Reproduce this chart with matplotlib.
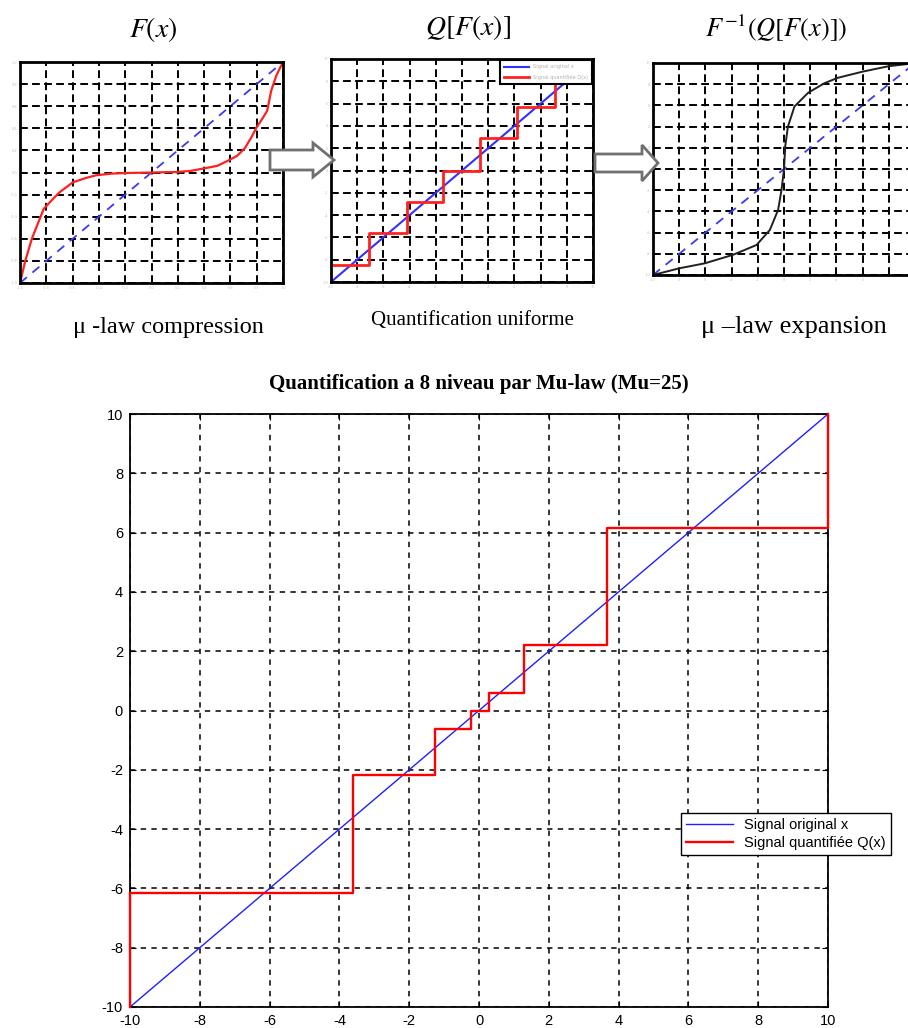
import numpy as np
import matplotlib
matplotlib.use('Agg')
import matplotlib.pyplot as plt
from matplotlib.patches import Polygon

plt.rcParams['axes.unicode_minus'] = False
plt.rcParams['mathtext.fontset'] = 'stix'

# ---- data ----
# panel 1 : compression curve F(x)
f_x = [-1, -0.96, -0.91, -0.86, -0.82, -0.75, -0.70, -0.60, -0.50, -0.42, -0.30, -0.20, 0,
       0.20, 0.30, 0.39, 0.50, 0.57, 0.65, 0.71, 0.76, 0.80, 0.85, 0.88, 0.91, 0.95, 1]
f_y = [-1, -0.80, -0.60, -0.45, -0.33, -0.24, -0.18, -0.09, -0.05, -0.025, -0.01, -0.005, 0,
       0.005, 0.015, 0.035, 0.06, 0.10, 0.15, 0.22, 0.32, 0.41, 0.50, 0.56, 0.74, 0.88, 1]

# panel 2 : uniform quantisation Q[F(x)]
q2_edges = [-10, -7.13, -4.21, -1.42, 1.37, 4.21, 7.08, 10]
q2_levels = [-8.5, -5.65, -2.8, 0.0, 2.9, 5.7, 8.5]

# panel 3 : expansion F^-1(Q[F(x)])
e_x = [-10, -8, -6.05, -3.9, -2.1, -1.08, -0.45, -0.19, 0, 0.1, 0.3, 0.8, 1.85, 3.1, 4.1, 6.05, 8.0, 9.4, 10]
e_y = [-10, -9.37, -8.9, -8.1, -7.17, -5.75, -3.86, -1.97, 0, 2.2, 4.0, 5.9, 7.2, 8.1, 8.6, 9.2, 9.7, 9.9, 10]

# main chart : 8 level mu-law quantisation (Mu=25)
sig_x = [-10, 10]
q_edges = [-10, -3.60, -1.25, -0.23, 0.30, 1.30, 3.66, 10]
q_levels = [-6.14, -2.17, -0.62, 0.0, 0.60, 2.22, 6.15]
q_start, q_end = -10, 10

ticks10 = list(range(-10, 11, 2))
ticks1 = [round(v, 1) for v in np.arange(-1, 1.01, 0.2)]

W, H = 908, 1028
fig = plt.figure(figsize=(W / 100, H / 100), dpi=100)


def box(l, t, r, b):
    return [l / W, 1 - b / H, (r - l) / W, (b - t) / H]


def small_panel(rect, lim, ticks):
    ax = fig.add_axes(box(*rect))
    ax.set_xlim(-lim, lim)
    ax.set_ylim(-lim, lim)
    ax.set_xticks(ticks)
    ax.set_yticks(ticks)
    ax.tick_params(labelsize=2.5, labelcolor='#c0c0c0', length=0, pad=2)
    ax.grid(True, color='k', linestyle=(0, (4, 2.2)), linewidth=1.4)
    for s in ax.spines.values():
        s.set_linewidth(2)
    return ax


# panel 1
ax1 = small_panel((20, 62, 283, 283), 1, ticks1)
ax1.plot([-1, 1], [-1, 1], color='#3a3af0', linestyle=(0, (5, 4)), linewidth=1.3)
ax1.plot(f_x, f_y, color='#ff2020', linewidth=1.6)

# panel 2
ax2 = small_panel((331, 59, 593, 282), 10, ticks10)
ax2.plot(sig_x, sig_x, color='#3030ff', linewidth=1.5, label='Signal original x')
ax2.step(q2_edges, q2_levels + [q2_levels[-1]], where='post', color='#ff2020',
         linewidth=2, label='Signal quantifiée Q(x)')
leg2 = ax2.legend(loc='upper right', fontsize=3.6, labelcolor='#b0b0b0', fancybox=False,
                  edgecolor='k', framealpha=1, borderaxespad=0.25, handlelength=5,
                  borderpad=0.8, labelspacing=1.0)
leg2.get_frame().set_linewidth(1.5)

# panel 3 (cut off on the right, like the reference)
ax3 = small_panel((653, 63, 915, 275), 10, ticks10)
ax3.set_xticklabels([str(t) if t < 8 else '' for t in ticks10])
ax3.plot(sig_x, sig_x, color='#3a3af0', linestyle=(0, (5, 4)), linewidth=1.3)
ax3.plot(e_x, e_y, color='#202020', linewidth=1.4)

# main chart
ax = fig.add_axes(box(130, 414, 828, 1007))
ax.plot(sig_x, sig_x, color='#1f1fff', linewidth=1.0, label='Signal original x')
ax.plot([q_start] + q_edges + [q_end], [q_start] + q_levels + [q_levels[-1], q_end],
        drawstyle='steps-post', color='#ff0000', linewidth=1.7, zorder=3, clip_on=False,
        label='Signal quantifiée Q(x)')
ax.set_xlim(-10, 10)
ax.set_ylim(-10, 10)
ax.set_xticks(ticks10)
ax.set_yticks(ticks10)
ax.grid(True, color='k', linestyle=(0, (3.5, 3.5)), linewidth=1.1)
ax.tick_params(direction='in', length=4, top=True, right=True, labelsize=10.5, pad=5)
for lab in ax.get_xticklabels() + ax.get_yticklabels():
    lab.set_family('Liberation Sans')
for s in ax.spines.values():
    s.set_linewidth(1.3)
ax.set_title('Quantification a 8 niveau par Mu-law (Mu=25)', family='Liberation Serif',
             fontweight='bold', fontsize=15, pad=18)
leg = ax.legend(loc='upper left', bbox_to_anchor=(681 / W, 1 - 813 / H),
                bbox_transform=fig.transFigure, borderaxespad=0, fancybox=False,
                edgecolor='k', framealpha=1, handlelength=3.2, borderpad=0.35,
                labelspacing=0.25, prop={'family': 'Liberation Sans', 'size': 10.5})
leg.get_frame().set_linewidth(1.0)

# overlay in pixel units: headings, captions, arrows
ov = fig.add_axes([0, 0, 1, 1], zorder=10)
ov.set_xlim(0, W)
ov.set_ylim(H, 0)
ov.axis('off')
ov.patch.set_alpha(0)

for x, y, s, fs in [(153, 30, r'$F(x)$', 20), (468, 28, r'$Q[F(x)]$', 20),
                    (776, 28, r'$F^{-1}(Q[F(x)])$', 19)]:
    ov.text(x, y, s, fontsize=fs, ha='center', va='center')

for x, y, s, fs in [(168, 327, 'μ -law compression', 17.5), (472, 320, 'Quantification uniforme', 15),
                    (794, 327, 'μ –law expansion', 19)]:
    ov.text(x, y, s, fontsize=fs, family='Liberation Serif', ha='center', va='center')

arrow1 = [(270, 150), (313, 150), (313, 143), (334, 160), (313, 177), (313, 170), (270, 170)]
arrow2 = [(595, 154), (642, 154), (642, 145), (658, 163), (642, 181), (642, 172), (595, 172)]
for pts in (arrow1, arrow2):
    ov.add_patch(Polygon(pts, closed=True, facecolor='white', edgecolor='#707070', linewidth=2))

plt.savefig('out.png', dpi=100)
plt.close()
